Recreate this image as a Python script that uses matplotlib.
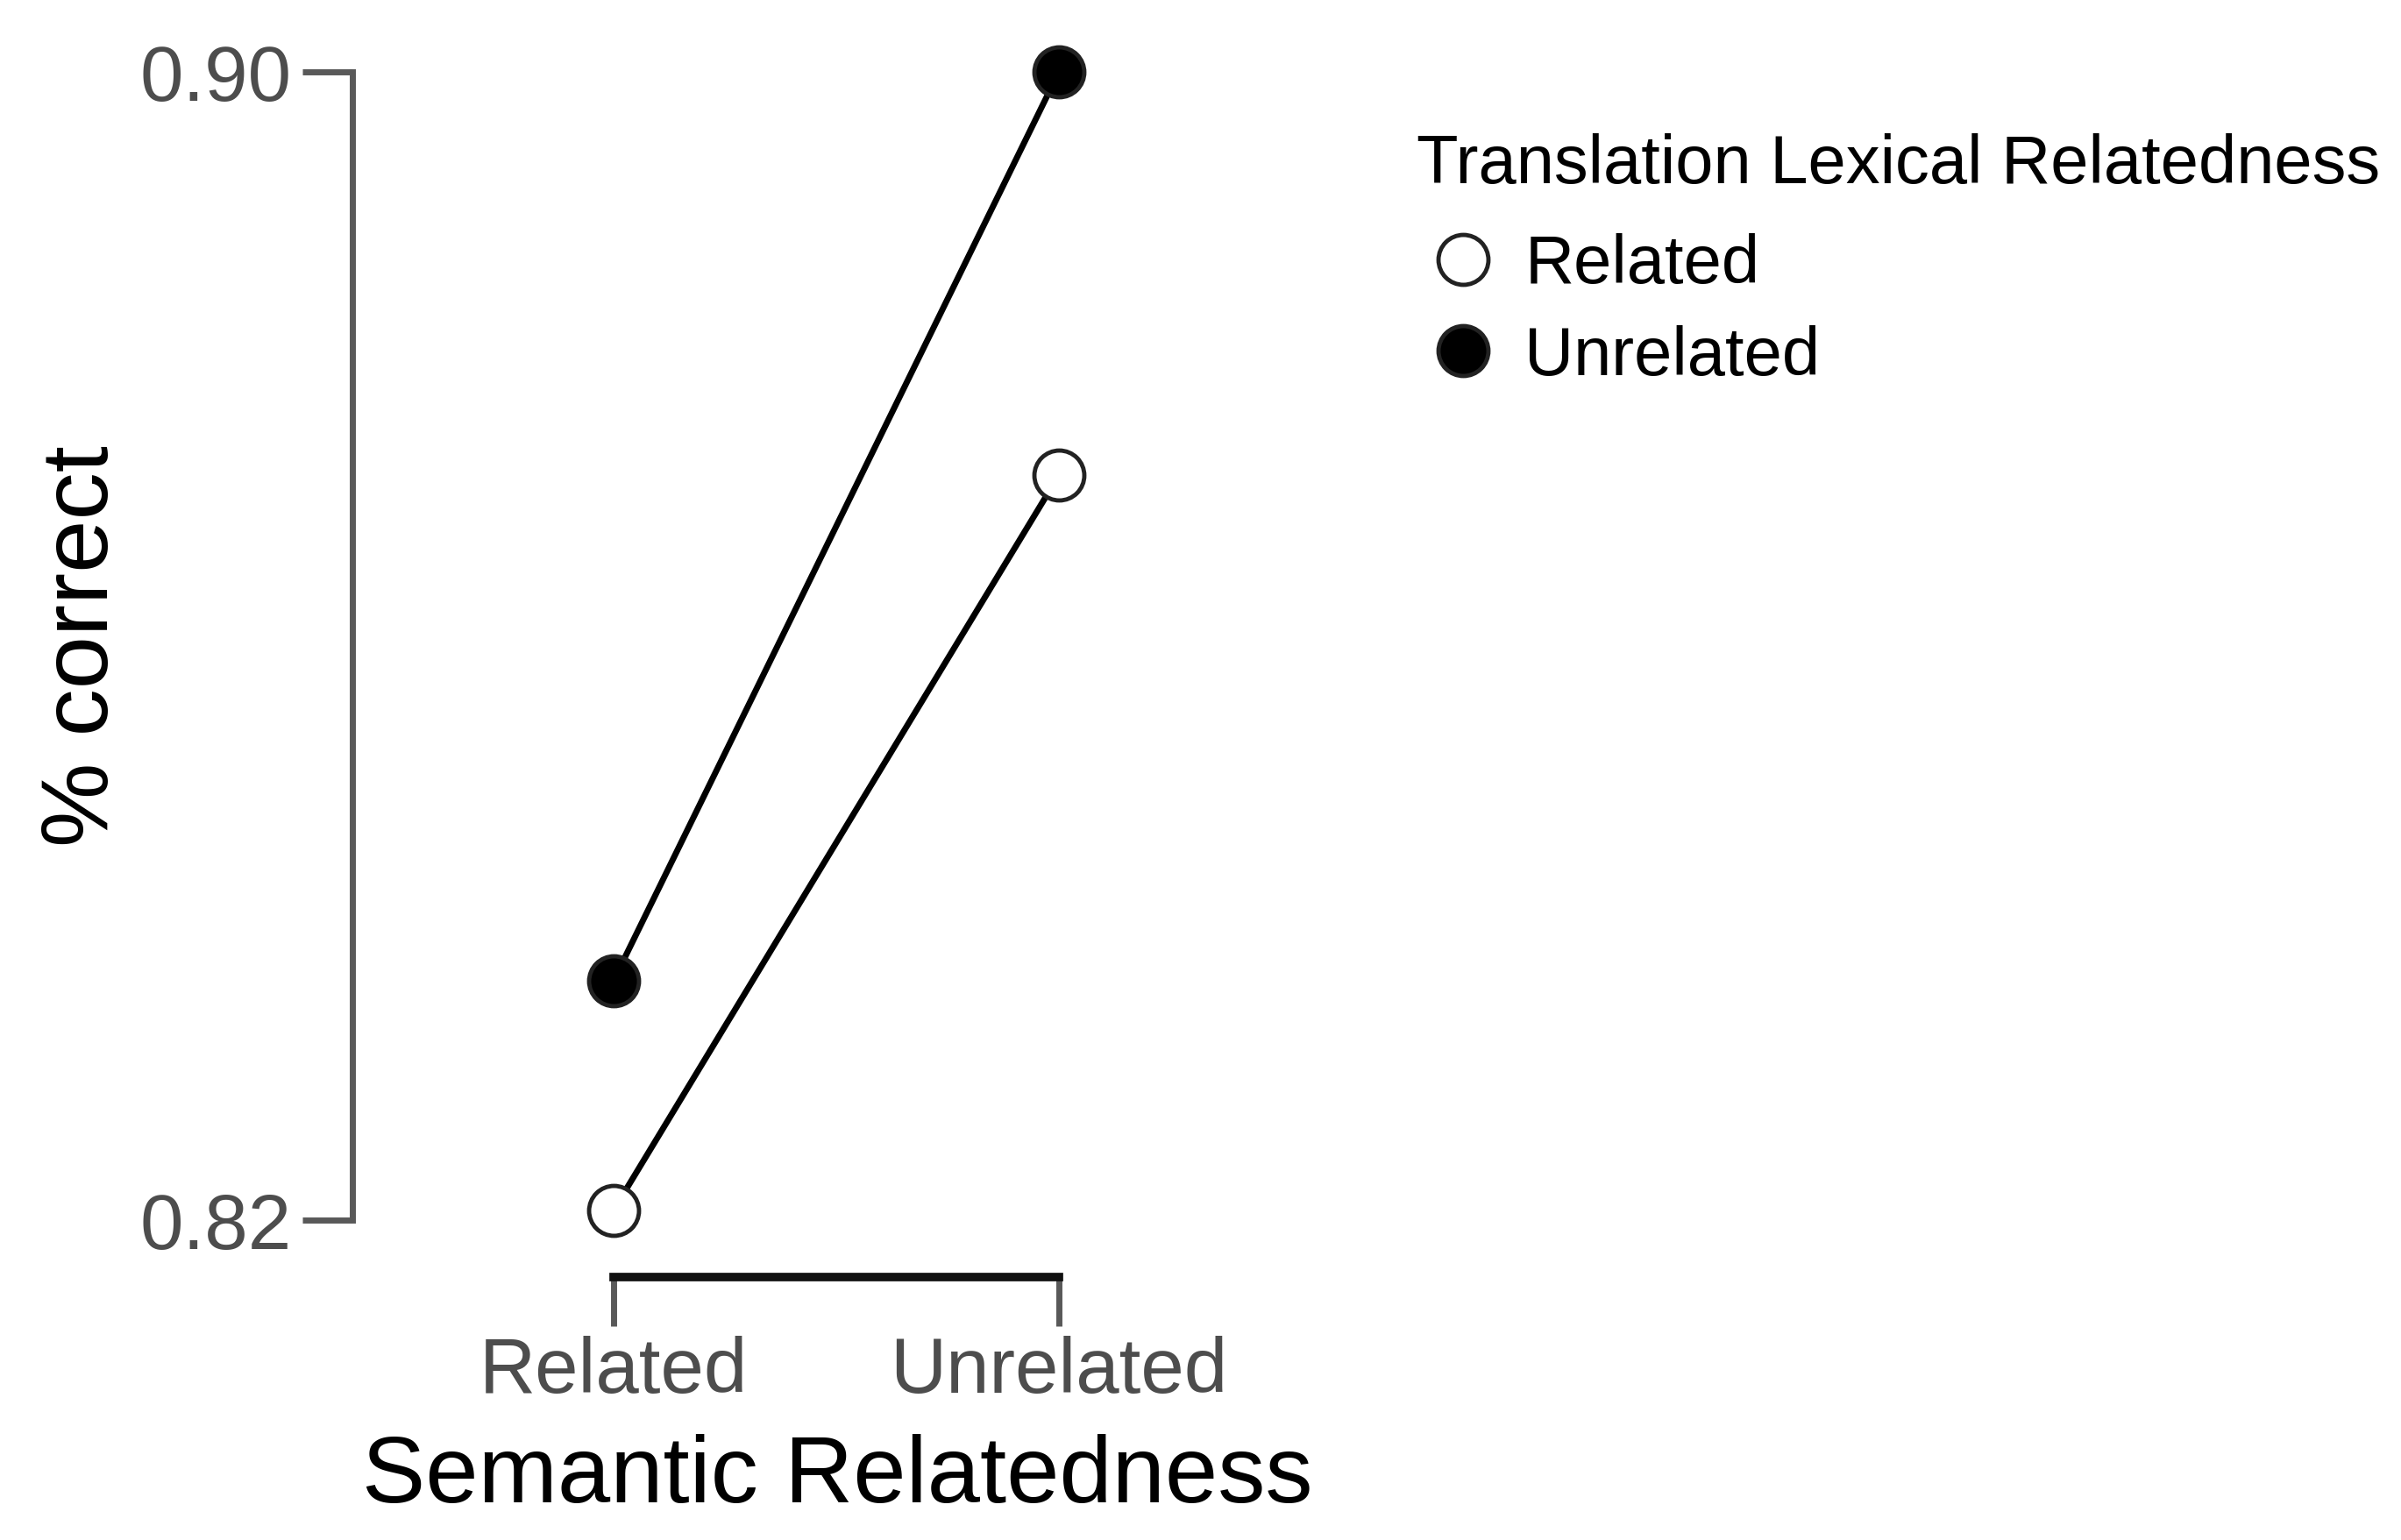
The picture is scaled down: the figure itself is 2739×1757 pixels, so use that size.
import matplotlib.pyplot as plt
from matplotlib.lines import Line2D

plt.rcParams['font.family'] = ['Liberation Sans', 'DejaVu Sans']

# data
categories = ['Related', 'Unrelated']
series_names = ['Related', 'Unrelated']
acc_trans_related = [0.8207, 0.8719]
acc_trans_unrelated = [0.8367, 0.9000]
y_ticks = [0.82, 0.90]
y_tick_labels = ['0.82', '0.90']

W, H = 2739, 1757
fig = plt.figure(figsize=(W / 100, H / 100), dpi=100)

# axes box in pixel coords (left spine at x=402, bottom spine at y=1457)
left, right, top, bottom = 402, 1500, 82, 1457
ax = fig.add_axes([left / W, 1 - bottom / H, (right - left) / W, (bottom - top) / H])

x = list(range(len(categories)))
px_per_x = 508
px_per_y = 1310 / 0.08
ax.set_xlim(-(700 - left) / px_per_x, (right - 700) / px_per_x)
ax.set_ylim(0.82 - (bottom - 1392) / px_per_y, 0.90)

mk = dict(marker='o', markersize=41, markeredgewidth=3.5, markeredgecolor='#222222',
          color='black', linewidth=5, clip_on=False)
ax.plot(x, acc_trans_related, markerfacecolor='white', zorder=3, **mk)
ax.plot(x, acc_trans_unrelated, markerfacecolor='black', zorder=3, **mk)

for s in ['top', 'right']:
    ax.spines[s].set_visible(False)
ax.spines['left'].set_bounds(0.82, 0.90)
ax.spines['left'].set_color('#595959')
ax.spines['left'].set_linewidth(5)
ax.spines['bottom'].set_bounds(0, 1)
ax.spines['bottom'].set_color('#111111')
ax.spines['bottom'].set_linewidth(7)

ax.set_yticks(y_ticks)
ax.set_yticklabels(y_tick_labels)
ax.set_xticks(x)
ax.set_xticklabels(categories)
ax.tick_params(axis='y', length=41, width=5, color='#595959', pad=9,
               labelsize=64, labelcolor='#4d4d4d')
ax.tick_params(axis='x', length=40, width=5, color='#595959', pad=8,
               labelsize=64, labelcolor='#4d4d4d')

fig.text(955 / W, 1 - 1686 / H, 'Semantic Relatedness', ha='center', va='center',
         fontsize=78, color='black')
fig.text(95 / W, 1 - 737 / H, '% correct', ha='center', va='center',
         rotation=90, fontsize=78, color='black')

# legend: title as its own text, entries below it
fig.text(1616 / W, 1 - 189 / H, 'Translation Lexical Relatedness', ha='left',
         va='center', fontsize=56, color='black')
handles = [
    Line2D([], [], linestyle='none', marker='o', markersize=41, markeredgewidth=3.5,
           markeredgecolor='#222222', markerfacecolor='white'),
    Line2D([], [], linestyle='none', marker='o', markersize=41, markeredgewidth=3.5,
           markeredgecolor='#222222', markerfacecolor='black'),
]
fig.legend(handles, series_names, loc='center left',
           bbox_to_anchor=(1614 / W, 1 - 355 / H),
           frameon=False, borderpad=0, borderaxespad=0, fontsize=56,
           handlelength=1.41, handletextpad=0.2, labelspacing=0.40)

fig.savefig('out.png', dpi=100)
